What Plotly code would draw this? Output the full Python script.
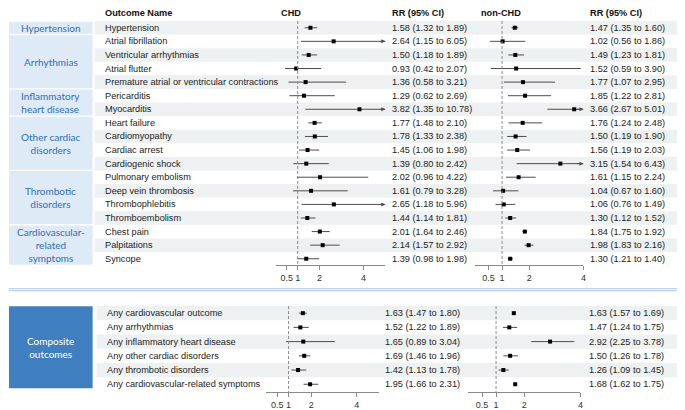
import plotly.graph_objects as go

# ---- data -------------------------------------------------------------
outcomes = ["Hypertension", "Atrial fibrillation", "Ventricular arrhythmias", "Atrial flutter",
            "Premature atrial or ventricular contractions", "Pericarditis", "Myocarditis",
            "Heart failure", "Cardiomyopathy", "Cardiac arrest", "Cardiogenic shock",
            "Pulmonary embolism", "Deep vein thrombosis", "Thrombophlebitis", "Thromboembolism",
            "Chest pain", "Palpitations", "Syncope"]

chd_rr = [1.58, 2.64, 1.50, 0.93, 1.36, 1.29, 3.82, 1.77, 1.78, 1.45, 1.39, 2.02, 1.61, 2.65, 1.44, 2.01, 2.14, 1.39]
chd_lo = [1.32, 1.15, 1.18, 0.42, 0.58, 0.62, 1.35, 1.48, 1.33, 1.06, 0.80, 0.96, 0.79, 1.18, 1.14, 1.64, 1.57, 0.98]
chd_hi = [1.89, 6.05, 1.89, 2.07, 3.21, 2.69, 10.78, 2.10, 2.38, 1.98, 2.42, 4.22, 3.28, 5.96, 1.81, 2.46, 2.92, 1.98]

non_rr = [1.47, 1.02, 1.49, 1.52, 1.77, 1.85, 3.66, 1.76, 1.50, 1.56, 3.15, 1.61, 1.04, 1.06, 1.30, 1.84, 1.98, 1.30]
non_lo = [1.35, 0.56, 1.23, 0.59, 1.07, 1.22, 2.67, 1.24, 1.19, 1.19, 1.54, 1.15, 0.67, 0.76, 1.12, 1.75, 1.83, 1.21]
non_hi = [1.60, 1.86, 1.81, 3.90, 2.95, 2.81, 5.01, 2.48, 1.90, 2.03, 6.43, 2.24, 1.60, 1.49, 1.52, 1.92, 2.16, 1.40]

groups = ["Hypertension", "Arrhythmias", "Inflammatory<br>heart disease", "Other cardiac<br>disorders",
          "Thrombotic<br>disorders", "Cardiovascular-<br>related<br>symptoms"]
group_start = [0, 1, 5, 7, 11, 15]
group_end = [0, 4, 6, 10, 14, 17]

composite = ["Any cardiovascular outcome", "Any arrhythmias", "Any inflammatory heart disease",
             "Any other cardiac disorders", "Any thrombotic disorders", "Any cardiovascular-related symptoms"]
comp_chd_rr = [1.63, 1.52, 1.65, 1.69, 1.42, 1.95]
comp_chd_lo = [1.47, 1.22, 0.89, 1.46, 1.13, 1.66]
comp_chd_hi = [1.80, 1.89, 3.04, 1.96, 1.78, 2.31]
comp_non_rr = [1.63, 1.47, 2.92, 1.50, 1.26, 1.68]
comp_non_lo = [1.57, 1.24, 2.25, 1.26, 1.09, 1.62]
comp_non_hi = [1.69, 1.75, 3.78, 1.78, 1.45, 1.75]

tick_vals = [0.5, 1, 2, 4]
tick_text = ["0.5", "1", "2", "4"]
chd_max = 5
non_max = 4

# ---- layout helpers -----------------------------------------------------
# page body has an 8px margin, so the figure starts at (8, 8) in the window
OFF = 8
W, H = 685 - OFF, 410 - OFF
def px(x):
    return (x - OFF) / W
def py(y):
    return 1 - (y - OFF) / H

FONT = "Liberation Sans, Arial, sans-serif"
GFONT = "Lato, Liberation Sans, sans-serif"
LINE_C = "#4d4d4d"
STRIPE = "#eef1f1"
BOX = "#deeaf6"
BOX_TXT = "#2f6fb3"

fig = go.Figure()
shapes = []
annots = []


def ci_rr_text(r, l, h):
    return f"{r:.2f} ({l:.2f} to {h:.2f})"


def forest(xa, ya, rr, lo, hi, xmax):
    xs, ys = [], []
    for i, (l, h) in enumerate(zip(lo, hi)):
        xs += [l, min(h, xmax), None]
        ys += [i, i, None]
        if h > xmax:
            annots.append(dict(x=xmax, y=i, ax=xmax - 0.3, ay=i, xref=xa, yref=ya,
                               axref=xa, ayref=ya, text="", showarrow=True,
                               arrowhead=2, arrowsize=0.8, arrowwidth=1, arrowcolor=LINE_C))
    fig.add_trace(go.Scatter(x=xs, y=ys, mode="lines", xaxis=xa, yaxis=ya,
                             line=dict(color=LINE_C, width=1), hoverinfo="skip",
                             showlegend=False, cliponaxis=False))
    fig.add_trace(go.Scatter(x=rr, y=list(range(len(rr))), mode="markers", xaxis=xa, yaxis=ya,
                             marker=dict(symbol="square", size=4, color="black"),
                             showlegend=False, cliponaxis=False))


# top section
forest("x", "y", chd_rr, chd_lo, chd_hi, chd_max)
forest("x2", "y", non_rr, non_lo, non_hi, non_max)
# bottom section
forest("x3", "y2", comp_chd_rr, comp_chd_lo, comp_chd_hi, chd_max)
forest("x4", "y2", comp_non_rr, comp_non_lo, comp_non_hi, non_max)

top_rng = [(268 - 28) / 13.76, (OFF - 28) / 13.76]
bot_rng = [(397 - 317) / 14.4, (300 - 317) / 14.4]

# stripes + row texts
for i, name in enumerate(outcomes):
    if i % 2 == 0:
        shapes.append(dict(type="rect", xref="paper", yref="y", x0=px(95), x1=1,
                           y0=i - 0.5, y1=i + 0.5, fillcolor=STRIPE, line_width=0, layer="below"))
    annots.append(dict(x=px(103), y=i, xref="paper", yref="y", text=name, showarrow=False,
                       xanchor="left", font=dict(family=FONT, size=9.2, color="#222")))
    annots.append(dict(x=px(392), y=i, xref="paper", yref="y",
                       text=ci_rr_text(chd_rr[i], chd_lo[i], chd_hi[i]), showarrow=False,
                       xanchor="left", font=dict(family=FONT, size=9.2, color="#222")))
    annots.append(dict(x=px(591), y=i, xref="paper", yref="y",
                       text=ci_rr_text(non_rr[i], non_lo[i], non_hi[i]), showarrow=False,
                       xanchor="left", font=dict(family=FONT, size=9.2, color="#222")))

for g, s, e in zip(groups, group_start, group_end):
    shapes.append(dict(type="rect", xref="paper", yref="y", x0=px(9), x1=px(93),
                       y0=s - 0.45, y1=e + 0.45, fillcolor=BOX, line_width=0, layer="below"))
    annots.append(dict(x=px(51), y=(s + e) / 2, xref="paper", yref="y", text=g, showarrow=False,
                       xanchor="center", font=dict(family=GFONT, size=10, color=BOX_TXT)))

for i, name in enumerate(composite):
    if i % 2 == 0:
        shapes.append(dict(type="rect", xref="paper", yref="y2", x0=px(97), x1=1,
                           y0=i - 0.5, y1=i + 0.5, fillcolor=STRIPE, line_width=0, layer="below"))
    annots.append(dict(x=px(105), y=i, xref="paper", yref="y2", text=name, showarrow=False,
                       xanchor="left", font=dict(family=FONT, size=9.2, color="#222")))
    annots.append(dict(x=px(385), y=i, xref="paper", yref="y2",
                       text=ci_rr_text(comp_chd_rr[i], comp_chd_lo[i], comp_chd_hi[i]), showarrow=False,
                       xanchor="left", font=dict(family=FONT, size=9.2, color="#222")))
    annots.append(dict(x=px(590), y=i, xref="paper", yref="y2",
                       text=ci_rr_text(comp_non_rr[i], comp_non_lo[i], comp_non_hi[i]), showarrow=False,
                       xanchor="left", font=dict(family=FONT, size=9.2, color="#222")))

shapes.append(dict(type="rect", xref="paper", yref="y2", x0=px(9), x1=px(93),
                   y0=-0.49, y1=5.28, fillcolor="#3f7fc0", line_width=0, layer="below"))
annots.append(dict(x=px(51), y=2.4, xref="paper", yref="y2", text="Composite<br>outcomes",
                   showarrow=False, xanchor="center",
                   font=dict(family=GFONT, size=10, color="white")))

# reference lines at RR = 1
for xa, ya, y1 in [("x", "y", top_rng[0]), ("x2", "y", top_rng[0]),
                   ("x3", "y2", bot_rng[0]), ("x4", "y2", bot_rng[0])]:
    shapes.append(dict(type="line", xref=xa, yref=ya, x0=1, x1=1, y0=-0.5, y1=y1,
                       line=dict(color="#8a8a8a", width=1, dash="3px,2px")))

# section separator
for yy in (292.3, 294.3):
    shapes.append(dict(type="line", xref="paper", yref="paper", x0=px(9), x1=1,
                       y0=py(yy), y1=py(yy), line=dict(color="#aec2e8", width=1)))

# headers
for txt, x, anchor in [("Outcome Name", 103, "left"), ("CHD", 292, "center"),
                       ("RR (95% CI)", 392, "left"), ("non-CHD", 503, "center"),
                       ("RR (95% CI)", 591, "left")]:
    annots.append(dict(x=px(x), y=py(13), xref="paper", yref="paper", text=f"<b>{txt}</b>",
                       showarrow=False, xanchor=anchor, yanchor="middle",
                       font=dict(family=FONT, size=9.2, color="#111")))

xaxis_style = dict(range=[0, chd_max], tickvals=tick_vals, ticktext=tick_text, showline=True,
                   linecolor="#8a8a8a", linewidth=1, ticks="outside", ticklen=4, tickcolor="#8a8a8a",
                   showgrid=False, zeroline=False, tickfont=dict(family=FONT, size=9, color="#333"),
                   fixedrange=True)
yaxis_style = dict(showgrid=False, zeroline=False, showticklabels=False, showline=False,
                   ticks="", fixedrange=True)

fig.update_layout(
    width=W, height=H, margin=dict(l=0, r=0, t=0, b=0),
    paper_bgcolor="white", plot_bgcolor="rgba(0,0,0,0)",
    xaxis=dict(xaxis_style, domain=[px(277), px(387)], anchor="y"),
    xaxis2=dict(xaxis_style, range=[0, non_max], domain=[px(477), px(586)], anchor="y"),
    xaxis3=dict(xaxis_style, domain=[px(267), px(381)], anchor="y2"),
    xaxis4=dict(xaxis_style, range=[0, non_max], domain=[px(470), px(583)], anchor="y2"),
    yaxis=dict(yaxis_style, range=top_rng, domain=[py(268), py(OFF)], anchor="x"),
    yaxis2=dict(yaxis_style, range=bot_rng, domain=[py(397), py(300)], anchor="x3"),
    shapes=shapes, annotations=annots,
)

fig.write_html("out.html")
